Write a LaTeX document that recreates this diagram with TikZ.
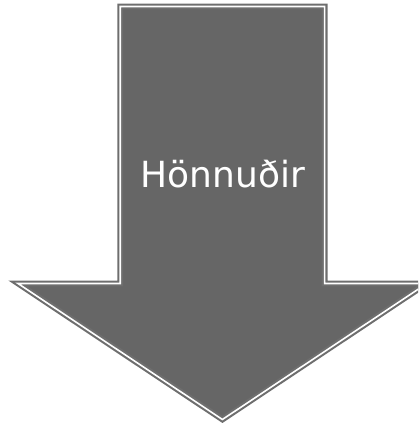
\documentclass[tikz,border=0pt]{standalone}
\usepackage{fontspec}
\setmainfont{DejaVu Sans}
\definecolor{arrowfill}{HTML}{666666}
\definecolor{arrowline}{HTML}{6E6E6E}
\begin{document}
\begin{tikzpicture}[x=1pt,y=-1pt,line join=miter,
  arrowbody/.style={fill=arrowfill,draw=arrowline,line width=2.1pt,double=white,double distance=1.6pt},
  arrowlabel/.style={text=white,font=\fontsize{36}{40}\selectfont,anchor=base,inner sep=0pt}]
\useasboundingbox (0,0) rectangle (418,426);
\begin{scope}
\clip (0,0) rectangle (418,426);
\coordinate (s1) at (120.2,6.5); \coordinate (s2) at (324.6,6.5);
\coordinate (s3) at (324.6,283.5); \coordinate (h2) at (426.8,283.5);
\coordinate (tip) at (222.4,419.5); \coordinate (h1) at (18,283.5);
\coordinate (s4) at (120.2,283.5);
\draw[arrowbody] (s1)--(s2)--(s3)--(h2)--(tip)--(h1)--(s4)--cycle;
\end{scope}
\node[arrowlabel] (lbl) at (222.8,187) {Hönnuðir};
\end{tikzpicture}
\end{document}
